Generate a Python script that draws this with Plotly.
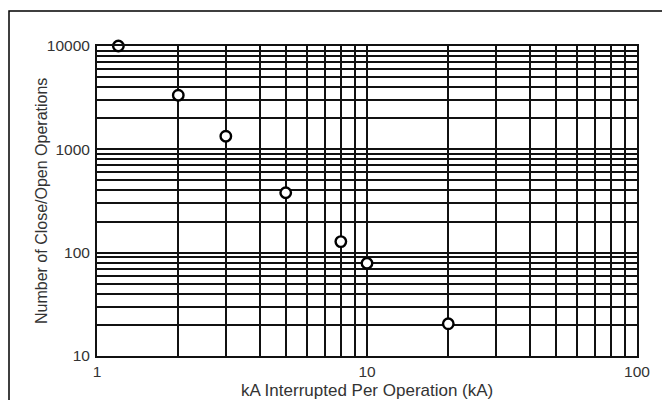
import plotly.graph_objects as go

# Data
ka_interrupted = [1.2, 2, 3, 5, 8, 10, 20]
operations = [10000, 3340, 1340, 380, 128, 79, 20.5]

# Grid / tick definitions
x_grid_vals = [1, 2, 3, 4, 5, 6, 7, 8, 9, 10, 20, 30, 40, 50, 60, 70, 80, 90, 100]
x_labels = {1: "1", 10: "10", 100: "100"}
y_grid_vals = [m * d for d in (10, 100, 1000) for m in range(1, 10)] + [10000]
y_labels = {10: "10", 100: "100", 1000: "1000", 10000: "10000"}

x_text = [x_labels.get(v, "") for v in x_grid_vals]
y_text = [y_labels.get(v, "") for v in y_grid_vals]

font_family = "Arial, Liberation Sans, Helvetica, sans-serif"
text_color = "#333333"

fig = go.Figure()
fig.add_trace(go.Scatter(
    x=ka_interrupted, y=operations, mode="markers",
    marker=dict(symbol="circle", size=10.5, color="white",
                line=dict(color="black", width=2.4)),
    cliponaxis=False, showlegend=False, hoverinfo="skip",
))

fig.update_xaxes(
    type="log", range=[0, 2], automargin=False,
    tickmode="array", tickvals=x_grid_vals, ticktext=x_text,
    showgrid=True, gridcolor="#111111", gridwidth=2,
    showline=True, linecolor="#111111", linewidth=2, mirror=True,
    ticks="", zeroline=False,
    tickfont=dict(family=font_family, size=15.5, color=text_color),
)
fig.update_yaxes(
    type="log", range=[1, 4], automargin=False,
    tickmode="array", tickvals=y_grid_vals, ticktext=y_text,
    showgrid=True, gridcolor="#111111", gridwidth=2,
    showline=True, linecolor="#111111", linewidth=2, mirror=True,
    ticks="outside", ticklen=2, tickcolor="rgba(0,0,0,0)", zeroline=False,
    tickfont=dict(family=font_family, size=15.5, color=text_color),
)

# Axis titles placed as annotations
fig.add_annotation(
    text="kA Interrupted Per Operation (kA)",
    xref="paper", yref="paper", x=0.5, y=-34/310,
    xanchor="center", yanchor="middle", showarrow=False,
    font=dict(family=font_family, size=17, color=text_color),
)
fig.add_annotation(
    text="Number of Close/Open Operations", textangle=-90,
    xref="paper", yref="paper", x=-56/540, y=0.5,
    xanchor="center", yanchor="middle", showarrow=False,
    font=dict(family=font_family, size=16, color=text_color),
)

# Outer frame around the figure
fig.add_shape(type="rect", xref="paper", yref="paper",
              x0=-88/540, x1=1.2, y0=-0.2, y1=1 + 35/310,
              line=dict(color="black", width=1.5), fillcolor="rgba(0,0,0,0)",
              layer="below")

fig.update_layout(
    width=662, height=400,
    margin=dict(l=97, r=25, t=46, b=44),
    paper_bgcolor="white", plot_bgcolor="white",
    font=dict(family=font_family),
)

fig.write_html("out.html", config={"displayModeBar": False},
               post_script="document.body.style.margin='0px';document.body.style.padding='0px';")
